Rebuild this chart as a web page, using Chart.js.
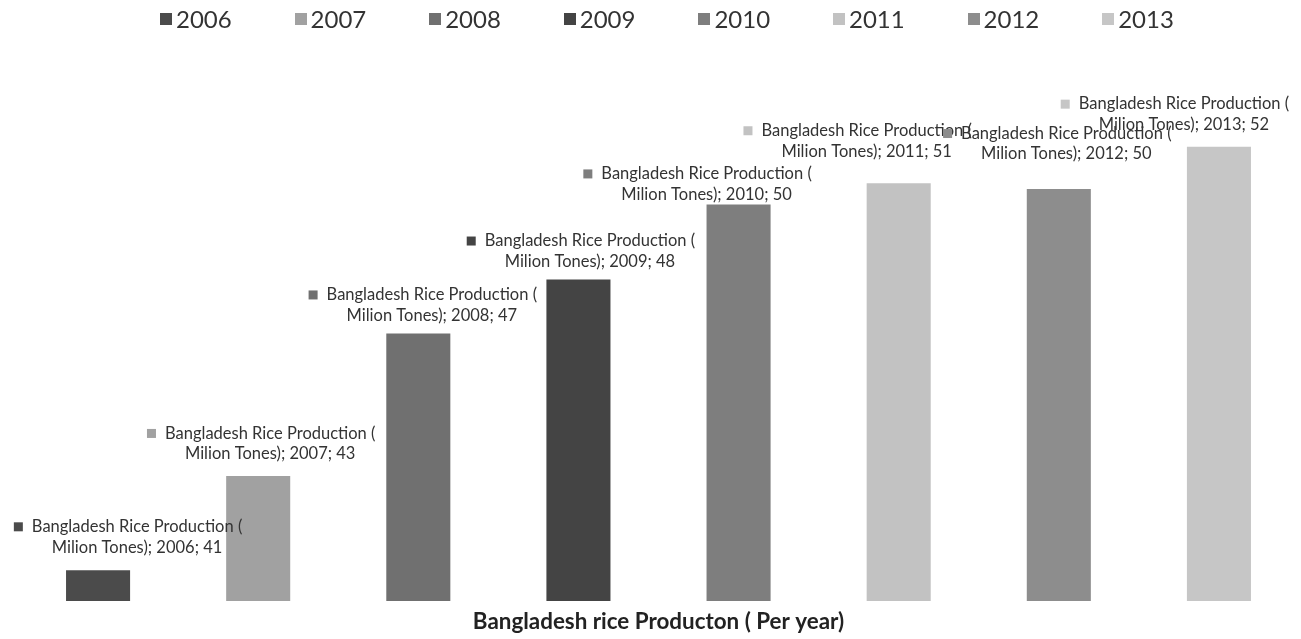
<!DOCTYPE html>
<html>
<head>
<meta charset="utf-8">
<title>Bangladesh rice production</title>
<script src="https://cdn.jsdelivr.net/npm/chart.js@4"></script>
<style>
  body { margin: 0; background: #ffffff; }
  .wrap { position: relative; width: 1301px; height: 639px; }
  .legend {
    position: absolute; top: 5px; left: 160px;
    display: flex; font-family: Lato, sans-serif; font-size: 24px;
    line-height: 28px; color: #333333;
  }
  .legend_item { width: 134.6px; display: flex; align-items: center; }
  .legend_box { width: 12px; height: 12px; margin-right: 4px; }
</style>
</head>
<body>
<div class="wrap">
  <canvas id="riceChart"></canvas>
  <div class="legend" id="legend"></div>
</div>
<script>
// данные графика
const years = ["2006", "2007", "2008", "2009", "2010", "2011", "2012", "2013"];
const production = [40.55, 43.0, 46.7, 48.1, 50.05, 50.6, 50.45, 51.55];
const barColors = ["#4b4b4b", "#a1a1a1", "#707070", "#444444", "#7e7e7e", "#c2c2c2", "#8d8d8d", "#c6c6c6"];
const seriesName = ["Bangladesh Rice Production (", "Milion Tones)"];
const axisTitle = "Bangladesh rice Producton ( Per year)";

// оси и подписи
const yMin = 39.75;
const yMax = 53.8;
const labelDx = [39, 12, 13.5, 11.5, -32, -32, 7.5, -35];
const labelDy = [-23, -22, -18, -18, -10, -32, -35, -22];

// легенда
const legend = document.getElementById("legend");
years.forEach((year, i) => {
  const item = document.createElement("div");
  item.className = "legend_item";
  const box = document.createElement("span");
  box.className = "legend_box";
  box.style.background = barColors[i];
  const text = document.createElement("span");
  text.textContent = year;
  item.appendChild(box);
  item.appendChild(text);
  legend.appendChild(item);
});

// подписи над столбцами
const barLabels = {
  id: "barLabels",
  afterDatasetsDraw(chart) {
    const ctx = chart.ctx;
    ctx.save();
    ctx.font = "16.5px Lato";
    ctx.textAlign = "center";
    ctx.textBaseline = "middle";
    chart.data.datasets.forEach((ds, i) => {
      const bar = chart.getDatasetMeta(i).data[i];
      const cx = bar.x + labelDx[i];
      const y2 = bar.y + labelDy[i];
      const y1 = y2 - 20.5;
      const line1 = seriesName[0];
      const line2 = seriesName[1] + "; " + years[i] + "; " + production[i].toFixed(0);
      ctx.fillStyle = "#333333";
      ctx.fillText(line1, cx, y1);
      ctx.fillText(line2, cx, y2);
      const w1 = ctx.measureText(line1).width;
      ctx.fillStyle = barColors[i];
      ctx.fillRect(cx - w1 / 2 - 18, y1 - 4.5, 9, 9);
    });
    ctx.restore();
  },
};

const datasets = years.map((year, i) => ({
  label: year,
  data: years.map((y, j) => (j === i ? production[i] : null)),
  backgroundColor: barColors[i],
  categoryPercentage: 0.8,
  barPercentage: 0.5,
  grouped: false,
}));

new Chart(document.getElementById("riceChart"), {
  type: "bar",
  data: { labels: years, datasets: datasets },
  plugins: [barLabels],
  options: {
    responsive: true,
    maintainAspectRatio: false,
    animation: false,
    layout: { padding: { left: 18, right: 2, top: 60, bottom: 2 } },
    plugins: {
      legend: { display: false },
      tooltip: { enabled: false },
    },
    scales: {
      x: {
        grid: { display: false, drawTicks: false },
        border: { display: false },
        ticks: { display: false },
        title: {
          display: true,
          text: axisTitle,
          color: "#222222",
          font: { family: "Lato", size: 22.4, weight: "bold" },
          padding: { top: 7.5, bottom: 1.5 },
        },
      },
      y: {
        display: false,
        min: yMin,
        max: yMax,
      },
    },
  },
});
</script>
</body>
</html>
